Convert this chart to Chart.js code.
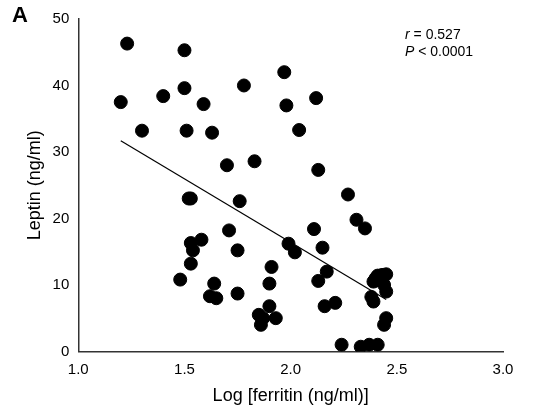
<!DOCTYPE html>
<html>
<head>
<meta charset="utf-8">
<script src="https://cdn.jsdelivr.net/npm/chart.js@4"></script>
<style>
  body { margin: 0; background: #fff; }
  #wrap { position: relative; width: 543px; height: 415px; }
  #label { position: absolute; left: 12px; top: 2px; font: bold 22px Arial, "Liberation Sans", sans-serif; }
  #stats { position: absolute; left: 405px; top: 26px; font: 14px Arial, "Liberation Sans", sans-serif; line-height: 17px; }
</style>
</head>
<body>
<div id="wrap">
  <canvas id="c" width="543" height="415"></canvas>
  <div id="label">A</div>
  <div id="stats"><i>r</i> = 0.527<br><i>P</i> &lt; 0.0001</div>
</div>
<script>
const logFerritin = [1.20,1.23,1.30,1.40,1.48,1.50,1.50,1.51,1.52,1.53,1.53,1.53,1.54,1.58,1.59,1.62,1.63,1.64,1.65,1.70,1.71,1.75,1.76,1.75,1.78,1.83,1.85,1.86,1.87,1.90,1.90,1.91,1.93,1.97,1.98,1.99,2.02,2.04,2.11,2.12,2.13,2.13,2.15,2.16,2.17,2.21,2.24,2.27,2.31,2.33,2.35,2.37,2.38,2.39,2.40,2.41,2.41,2.43,2.44,2.45,2.45,2.44,2.45,2.39];
const leptin = [37.5,46.3,33.2,38.4,10.8,45.3,39.6,33.2,23.0,23.0,16.3,13.2,15.2,16.8,37.2,8.3,32.9,10.2,8.0,28.0,18.2,15.2,22.6,8.7,40.0,28.6,5.5,4.0,5.0,6.8,10.2,12.7,5.0,42.0,37.0,16.2,14.9,33.3,18.4,38.1,27.3,10.6,15.6,6.8,12.0,7.3,1.0,23.6,19.8,0.7,18.5,1.0,8.2,7.5,11.0,1.0,11.4,11.5,10.0,11.6,9.0,4.0,5.0,10.5];
const fitX = [1.20, 2.45];
const fitY = [31.7, 7.8];
const xTicks = [1.0, 1.5, 2.0, 2.5, 3.0];
const yTicks = [0, 10, 20, 30, 40, 50];

const font = { family: 'Arial, "Liberation Sans", sans-serif', size: 15 };
new Chart(document.getElementById('c'), {
  type: 'scatter',
  data: {
    datasets: [
      { data: logFerritin.map((x, i) => ({ x, y: leptin[i] })), backgroundColor: '#000', borderColor: '#000', pointRadius: 6.5, pointHoverRadius: 6.5 },
      { type: 'line', data: fitX.map((x, i) => ({ x, y: fitY[i] })), borderColor: '#000', borderWidth: 1.2, pointRadius: 0, fill: false }
    ]
  },
  options: {
    responsive: false,
    animation: false,
    layout: { padding: { top: 19, right: 40, left: 20, bottom: 4 } },
    plugins: { legend: { display: false }, tooltip: { enabled: false } },
    scales: {
      x: {
        min: 1, max: 3,
        afterBuildTicks: a => { a.ticks = xTicks.map(v => ({ value: v })); },
        grid: { display: false, drawTicks: true, tickLength: 6, tickColor: '#333' },
        border: { color: '#333', width: 1.5 },
        ticks: { color: '#000', font, callback: v => v.toFixed(1) },
        title: { display: true, text: 'Log [ferritin (ng/ml)]', color: '#000', font: { ...font, size: 18 } }
      },
      y: {
        min: 0, max: 50,
        afterBuildTicks: a => { a.ticks = yTicks.map(v => ({ value: v })); },
        grid: { display: false, drawTicks: true, tickLength: 6, tickColor: '#333' },
        border: { color: '#333', width: 1.5 },
        ticks: { color: '#000', font },
        title: { display: true, text: 'Leptin (ng/ml)', color: '#000', font: { ...font, size: 18 } }
      }
    }
  }
});
</script>
</body>
</html>
